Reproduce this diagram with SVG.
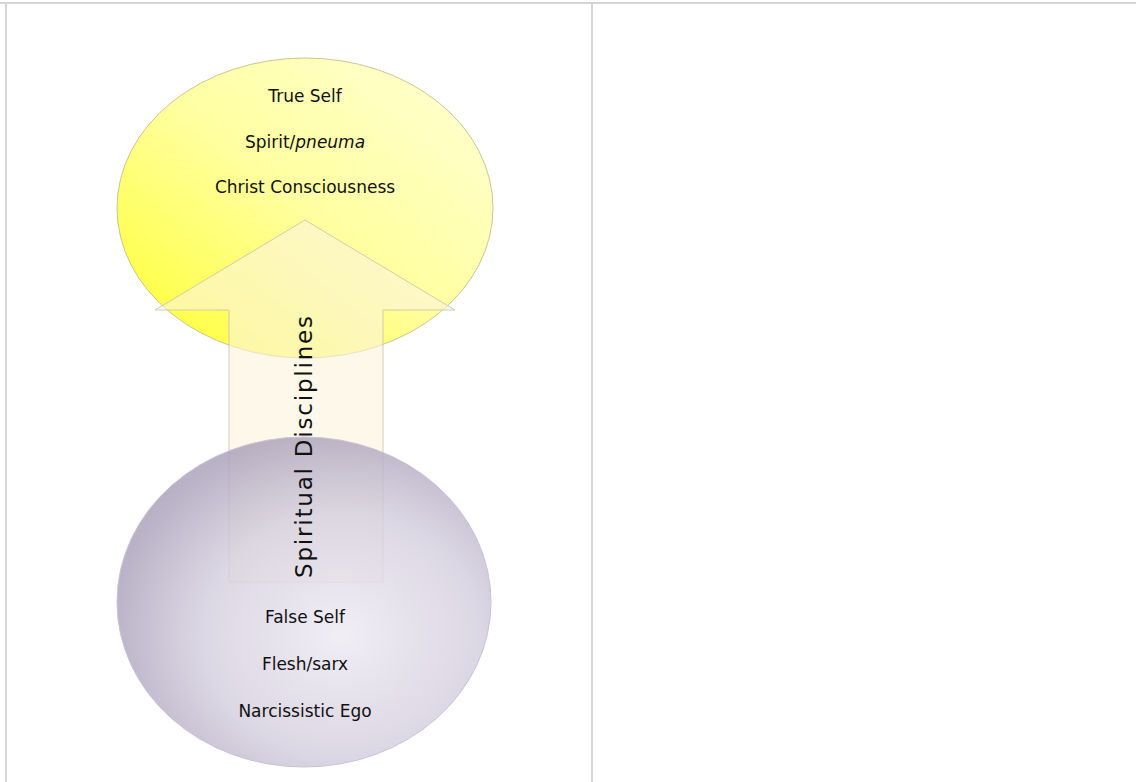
<svg xmlns="http://www.w3.org/2000/svg" width="1136" height="782" viewBox="0 0 1136 782">
<defs>
<style>
.t{font-family:"DejaVu Sans","Liberation Sans",sans-serif;font-size:17px;fill:#111;text-anchor:middle}
.frame{stroke:#d6d6d6;stroke-width:2;fill:none}
</style>
<linearGradient id="gy" x1="0" y1="1" x2="1" y2="0">
<stop offset="0" stop-color="#ffff2a"/>
<stop offset="0.5" stop-color="#ffffa0"/>
<stop offset="1" stop-color="#ffffd8"/>
</linearGradient>
<radialGradient id="gp" cx="0.6" cy="0.6" r="0.62">
<stop offset="0" stop-color="#eeeaf3"/>
<stop offset="0.6" stop-color="#d4cede"/>
<stop offset="1" stop-color="#aaa1ba"/>
</radialGradient>
</defs>
<rect width="1136" height="782" fill="#fff"/>
<g id="frame">
<line class="frame" x1="0" y1="3" x2="1136" y2="3"/>
<line class="frame" x1="6" y1="3" x2="6" y2="782"/>
<line class="frame" x1="592" y1="3" x2="592" y2="782"/>
</g>
<g id="true-self">
<ellipse cx="305" cy="208" rx="188" ry="150" fill="url(#gy)" stroke="#c8c890" stroke-width="1"/>
</g>
<g id="connectors">
<path d="M305,220 L455,310 L383,310 L383,582 L229,582 L229,310 L155,310 Z" fill="#fbf3dc" fill-opacity="0.6" stroke="#c8c0a8" stroke-opacity="0.8" stroke-width="1"/>
</g>
<g id="false-self">
<ellipse cx="304" cy="602" rx="187" ry="165" fill="url(#gp)" fill-opacity="0.82" stroke="#c9c3d2" stroke-width="1"/>
</g>
<g id="labels">
<text class="t" x="305" y="102">True Self</text>
<text class="t" x="305" y="148">Spirit/<tspan font-style="italic">pneuma</tspan></text>
<text class="t" x="305" y="193">Christ Consciousness</text>
<text class="t" x="305" y="623">False Self</text>
<text class="t" x="305" y="670">Flesh/sarx</text>
<text class="t" x="305" y="717">Narcissistic Ego</text>
<text class="t" style="font-size:23px" transform="translate(312,447) rotate(-90)" textLength="262" lengthAdjust="spacing">Spiritual  Disciplines</text>
</g>
</svg>
